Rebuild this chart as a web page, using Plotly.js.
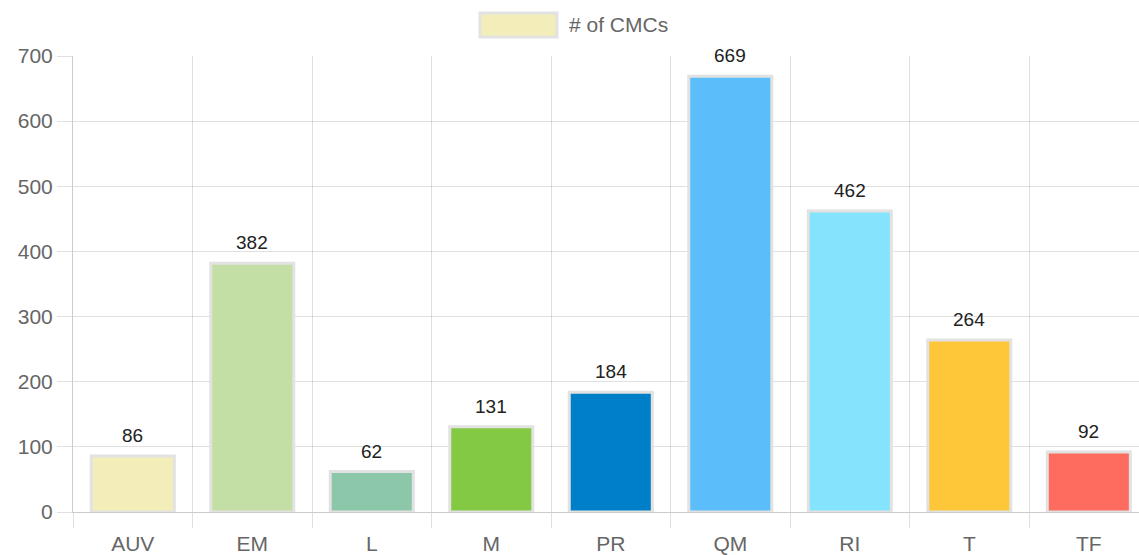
<!DOCTYPE html>
<html>
<head>
<meta charset="utf-8">
<script src="https://cdn.plot.ly/plotly-3.0.1.min.js"></script>
<style>html,body{margin:0;padding:0;background:#fff;}#chart{width:1139px;height:555px;}</style>
</head>
<body>
<div id="chart"></div>
<script>
const categories = ["AUV", "EM", "L", "M", "PR", "QM", "RI", "T", "TF"];
const counts = [86, 382, 62, 131, 184, 669, 462, 264, 92];
const barColors = ["#f3eeb9", "#c4dfa6", "#8bc7a8", "#84c944", "#007fc9", "#5bbefa", "#84e4fd", "#fec73a", "#fe6b5f"];
const seriesName = "# of CMCs";
const yTicks = [0, 100, 200, 300, 400, 500, 600, 700];

const fontFam = "Liberation Sans, Arial, Helvetica, sans-serif";
const gridColor = "rgba(0,0,0,0.12)";

const trace = {
  type: "bar",
  x: categories,
  y: counts,
  name: seriesName,
  marker: { color: barColors, line: { color: "#e2e2e2", width: 3 } },
  hoverinfo: "x+y",
  showlegend: false
};

const labelAnnotations = categories.map((c, i) => ({
  x: c, y: counts[i], xref: "x", yref: "y",
  text: String(counts[i]), showarrow: false,
  yanchor: "bottom", yshift: 8,
  font: { family: fontFam, size: 19, color: "#222" }
}));

const layout = {
  width: 1139, height: 555,
  margin: { l: 73, r: 0, t: 56, b: 43, pad: 0 },
  paper_bgcolor: "#fff", plot_bgcolor: "#fff",
  bargap: 0.305,
  showlegend: false,
  font: { family: fontFam, size: 21, color: "#666" },
  xaxis: {
    type: "category",
    range: [-0.5, 8.42],
    tickson: "boundaries",
    ticks: "outside", ticklen: 15, tickcolor: gridColor, tickwidth: 1,
    ticklabelstandoff: 13,
    showgrid: true, gridcolor: gridColor, gridwidth: 1,
    showline: true, linecolor: "rgba(0,0,0,0.2)", linewidth: 1,
    tickfont: { family: fontFam, size: 21, color: "#666" },
    fixedrange: true
  },
  yaxis: {
    range: [0, 700],
    tickvals: yTicks,
    ticktext: yTicks.map(String),
    ticks: "outside", ticklen: 15, tickcolor: gridColor, tickwidth: 1,
    showgrid: true, gridcolor: gridColor, gridwidth: 1,
    zeroline: false,
    showline: true, linecolor: "rgba(0,0,0,0.2)", linewidth: 1,
    tickfont: { family: fontFam, size: 21, color: "#666" },
    fixedrange: true
  },
  shapes: [{
    type: "rect", xref: "paper", yref: "paper",
    x0: 0.3818, x1: 0.454, y0: 1.0417, y1: 1.0943,
    fillcolor: barColors[0], line: { color: "#e2e2e2", width: 3 }
  }],
  annotations: labelAnnotations.concat([{
    xref: "paper", yref: "paper", x: 0.4634, y: 1.068,
    xanchor: "left", yanchor: "middle", showarrow: false,
    text: seriesName,
    font: { family: fontFam, size: 21, color: "#666" }
  }])
};

Plotly.newPlot("chart", [trace], layout, { displayModeBar: false, staticPlot: true });
</script>
</body>
</html>
